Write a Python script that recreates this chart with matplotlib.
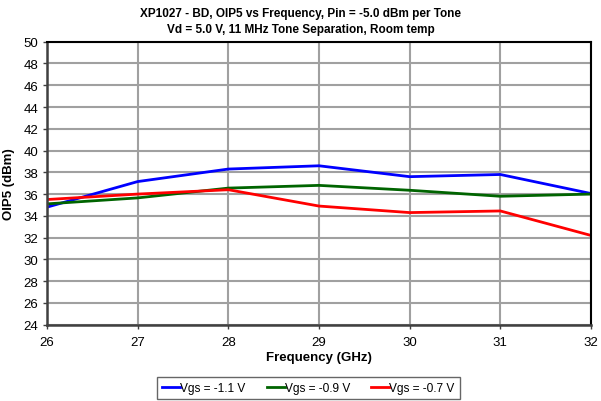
import numpy as np
import matplotlib.pyplot as plt

plt.rcParams['font.family'] = ['Liberation Sans', 'DejaVu Sans']

# OIP5 measurements per gate bias
freq = [26, 27, 28, 29, 30, 31, 32]
oip5_vgs_m11 = [34.8, 37.15, 38.3, 38.6, 37.6, 37.8, 36.05]
oip5_vgs_m09 = [35.1, 35.65, 36.55, 36.8, 36.35, 35.8, 36.0]
oip5_vgs_m07 = [35.5, 36.0, 36.4, 34.9, 34.3, 34.45, 32.2]

fig = plt.figure(figsize=(6.01, 4.02), dpi=100)
ax = fig.add_axes([47/601, 1 - 325.7/402, 544/601, 283/402])

ax.plot(freq, oip5_vgs_m11, color='#0000ff', lw=2, label='Vgs = -1.1 V')
ax.plot(freq, oip5_vgs_m09, color='#006400', lw=2, label='Vgs = -0.9 V')
ax.plot(freq, oip5_vgs_m07, color='#ff0000', lw=2, label='Vgs = -0.7 V')

ax.set_xlim(26, 32)
ax.set_ylim(24, 50)
ax.set_xticks(np.arange(26, 33, 1))
ax.set_yticks(np.arange(24, 51, 2))
ax.grid(True, color='#a0a0a0', lw=1.5)
ax.set_axisbelow(True)
ax.tick_params(labelsize=9.5, length=3, width=1, color='#404040')
ax.tick_params(axis='x', pad=5)

for s in ['left', 'bottom']:
    ax.spines[s].set_color('#404040')
    ax.spines[s].set_linewidth(1.8)
for s in ['top', 'right']:
    ax.spines[s].set_color('black')
    ax.spines[s].set_linewidth(1.5)

ax.set_xlabel('Frequency (GHz)', fontsize=9.5, fontweight='bold', labelpad=2)
ax.set_ylabel('OIP5 (dBm)', fontsize=9.5, fontweight='bold', labelpad=6)
fig.text(0.5, 0.98, 'XP1027 - BD, OIP5 vs Frequency, Pin = -5.0 dBm per Tone\n'
         'Vd = 5.0 V, 11 MHz Tone Separation, Room temp',
         ha='center', va='top', fontsize=8.5, fontweight='bold', linespacing=1.4)

leg = fig.legend(loc='center', bbox_to_anchor=(0.513, 1 - 389/402), ncol=3,
                 fontsize=8.6, frameon=True, fancybox=False, edgecolor='#404040',
                 handlelength=1.5, handletextpad=0.0, columnspacing=1.8,
                 borderpad=0.45)
leg.get_frame().set_linewidth(1)

fig.savefig('out.png', dpi=100)
